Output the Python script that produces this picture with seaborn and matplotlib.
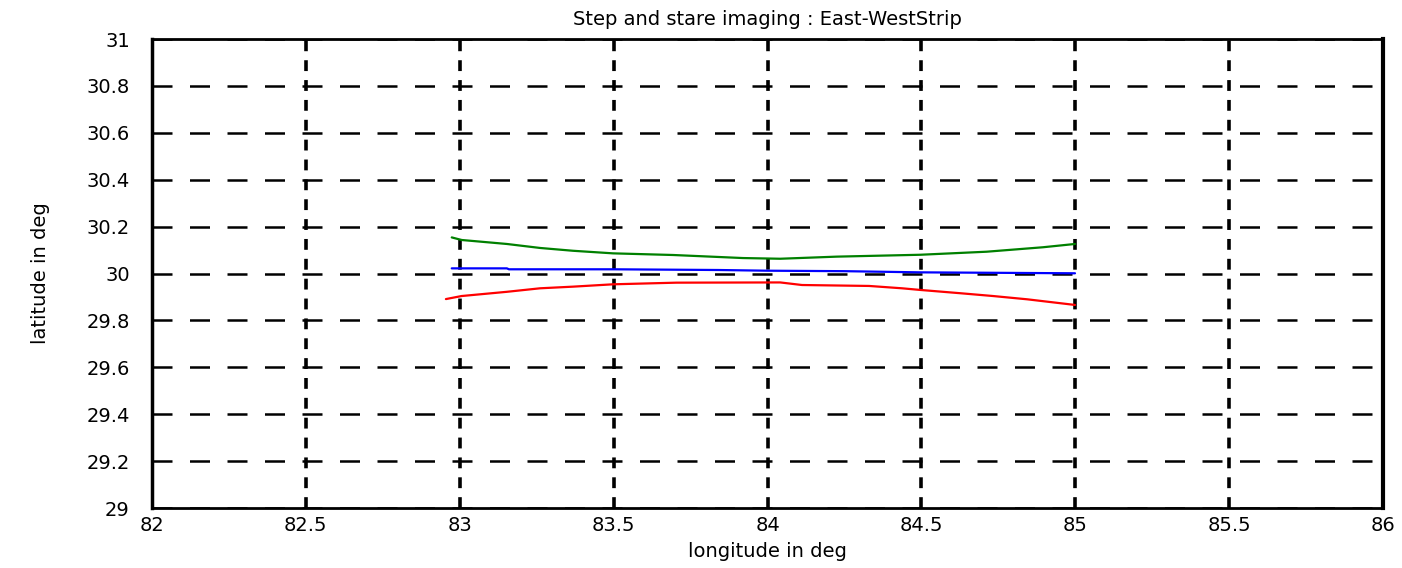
"""
Step and stare imaging: East-West strip ground track, redrawn with seaborn.
"""
import pandas as pd
import matplotlib
matplotlib.use("Agg")
import matplotlib.pyplot as plt
import seaborn as sns

# values
green_lon = [82.974, 83.006, 83.153, 83.261, 83.368, 83.498, 83.693, 83.920, 84.041,
             84.225, 84.496, 84.712, 84.895, 84.999]
green_lat = [30.154, 30.143, 30.126, 30.109, 30.097, 30.086, 30.079, 30.066, 30.063,
             30.072, 30.080, 30.093, 30.112, 30.126]

blue_lon = [82.974, 83.153, 83.160, 83.500, 83.840, 84.000, 84.250, 84.496, 84.750, 84.999]
blue_lat = [30.022, 30.022, 30.018, 30.018, 30.015, 30.012, 30.010, 30.005, 30.003, 30.001]

red_lon = [82.955, 83.006, 83.153, 83.261, 83.368, 83.498, 83.704, 84.041,
           84.112, 84.330, 84.437, 84.496, 84.626, 84.733, 84.844, 84.999]
red_lat = [29.891, 29.904, 29.922, 29.937, 29.944, 29.954, 29.961, 29.962,
           29.951, 29.947, 29.937, 29.930, 29.916, 29.904, 29.890, 29.866]

x_ticks = [82, 82.5, 83, 83.5, 84, 84.5, 85, 85.5, 86]
y_ticks = [29, 29.2, 29.4, 29.6, 29.8, 30, 30.2, 30.4, 30.6, 30.8, 31]


def main():
    sns.set_style("white")
    plt.rcParams['font.family'] = ['DejaVu Sans']
    plt.rcParams['text.color'] = 'black'
    plt.rcParams['axes.labelcolor'] = 'black'
    plt.rcParams['xtick.color'] = 'black'
    plt.rcParams['ytick.color'] = 'black'

    fig = plt.figure(figsize=(14.02, 5.68), dpi=100)
    ax = fig.add_axes([0.1084, 0.1056, 0.8781, 0.8257])

    sns.lineplot(x=green_lon, y=green_lat, color="#008000", linewidth=1.6,
                 ax=ax, sort=False, estimator=None)
    sns.lineplot(x=blue_lon, y=blue_lat, color="#0000ff", linewidth=1.6,
                 ax=ax, sort=False, estimator=None)
    sns.lineplot(x=red_lon, y=red_lat, color="#ff0000", linewidth=1.6,
                 ax=ax, sort=False, estimator=None)

    ax.set_xlim(82, 86)
    ax.set_ylim(29, 31)
    ax.set_xticks(x_ticks)
    ax.set_yticks(y_ticks)
    ax.set_xticklabels([f"{v:g}" for v in x_ticks], fontsize=14)
    ax.set_yticklabels([f"{v:g}" for v in y_ticks], fontsize=14)
    ax.tick_params(direction="in", length=6, color="black", width=1.5)
    ax.tick_params(axis="y", pad=16)
    ax.tick_params(axis="x", pad=6)

    # MATLAB style dotted grid, verticals heavier than horizontals
    ax.xaxis.grid(True, color="black", linestyle=(0, (3, 2.5)), linewidth=2.6)
    ax.yaxis.grid(True, color="black", linestyle=(0, (8, 7)), linewidth=1.8)
    ax.set_axisbelow(True)

    for side in ["left", "bottom", "top", "right"]:
        ax.spines[side].set_visible(True)
        ax.spines[side].set_color("black")
    ax.spines["left"].set_linewidth(2.5)
    ax.spines["bottom"].set_linewidth(2)
    ax.spines["top"].set_linewidth(2)
    ax.spines["right"].set_linewidth(3)

    ax.set_title("Step and stare imaging : East-WestStrip", fontsize=14, pad=10)
    ax.set_xlabel("longitude in deg", fontsize=14, labelpad=5)
    ax.set_ylabel("latitude in deg", fontsize=14, labelpad=26)

    fig.savefig("out.png", dpi=100)


if __name__ == "__main__":
    main()
